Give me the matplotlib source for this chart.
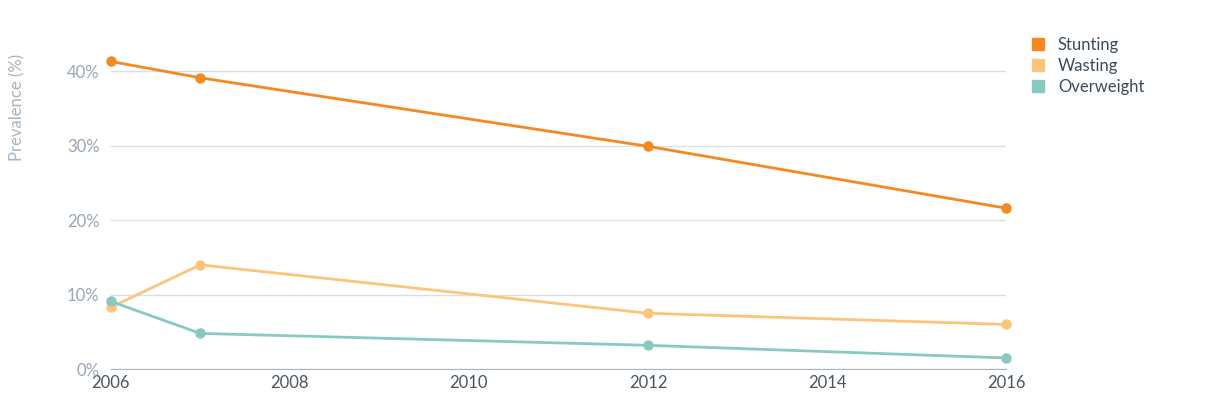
import matplotlib.pyplot as plt
from matplotlib.lines import Line2D

years = [2006, 2007, 2012, 2016]
stunting = [41.3, 39.1, 29.9, 21.6]
wasting = [8.3, 14.0, 7.5, 6.0]
overweight = [9.1, 4.8, 3.2, 1.5]
series = [("Stunting", stunting, "#f5891f"),
          ("Wasting", wasting, "#fdc47c"),
          ("Overweight", overweight, "#88c9c2")]

plt.rcParams['font.family'] = ['Lato', 'DejaVu Sans']
fig = plt.figure(figsize=(12.3, 4.03), dpi=100)
ax = fig.add_axes([0.09, 0.084, 0.728, 0.832])

for name, vals, col in series:
    ax.plot(years, vals, color=col, lw=2, marker='o', ms=6.5, clip_on=False, zorder=3)

ax.set_xlim(2006, 2016)
ax.set_ylim(0, 45)
ax.set_xticks(range(2006, 2017, 2))
ax.set_yticks([0, 10, 20, 30, 40])
ax.set_yticklabels([f"{v}%" for v in [0, 10, 20, 30, 40]])
ax.grid(axis='y', color='#d8e0e6', lw=1)
ax.set_axisbelow(True)
for s in ['top', 'right', 'left']:
    ax.spines[s].set_visible(False)
ax.spines['bottom'].set_color('#a8b4bf')
ax.tick_params(axis='y', length=0, colors='#9aa6b2', labelsize=12, pad=8)
ax.tick_params(axis='x', length=0, colors='#4a5560', labelsize=12, pad=4)
ax.set_ylabel("Prevalence (%)", color='#a8b4bf', fontsize=12)
ax.yaxis.set_label_coords(-0.095, 0.78)

handles = [Line2D([], [], marker='s', ls='', color=c, ms=8) for _, _, c in series]
fig.legend(handles, [n for n, _, _ in series], loc='upper left',
           bbox_to_anchor=(0.818, 0.945), frameon=False, fontsize=12,
           handletextpad=0.2, labelspacing=0.3, labelcolor='#3d4a57')

fig.savefig("out.png")
